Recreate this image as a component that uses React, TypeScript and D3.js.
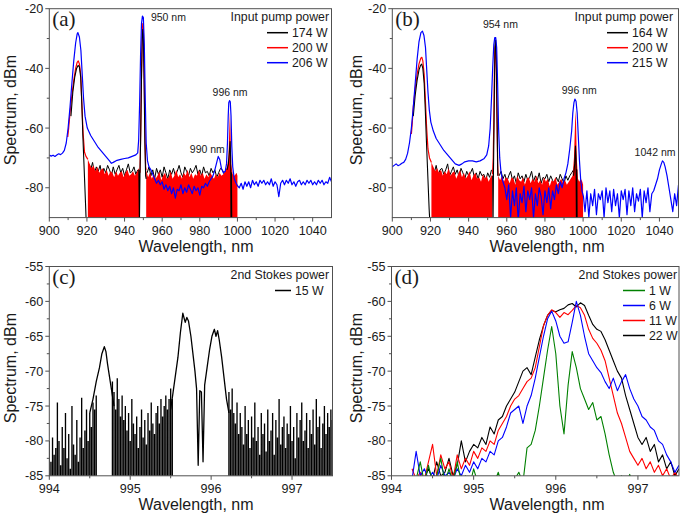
import * as d3 from 'd3';

type Pt = [number, number];

// spectra are sampled on a regular wavelength grid in the noisy stretches
const onGrid = (x0: number, step: number, ys: number[]): Pt[] =>
  ys.map((y, i) => [+(x0 + i * step).toFixed(3), y]);

// ---------- panel (a) ----------
const aBlue206: Pt[] = [
  [900, -69], [901, -69.4], [902, -69.1], [903, -69.5], [904, -69], [905, -68.6], [906, -68.9], [907, -68.4],
  [908, -67.5], [909, -65], [910, -60], [911, -53], [912, -45], [913, -37.5], [914, -31.5], [914.8, -28.5],
  [915.2, -28], [916, -29.5], [916.8, -34], [917.5, -42], [918.2, -50], [919, -56], [920.2, -60], [922, -62.5],
  [924, -64.5], [926, -66.5], [928, -68], [930, -69.5], [932, -71], [933, -71.8], [934, -71.5], [936, -70.8],
  [938, -70.5], [940, -70.2], [942, -70], [944, -69.5], [946, -69], [947, -68.3], [947.5, -64], [948, -52],
  [948.5, -36], [949, -25], [949.5, -22.5], [950, -23], [950.5, -32], [951, -50], [951.5, -65], [952.2, -71],
  [953, -73], [954, -74], [955, -75.5],
  ...onGrid(956, 1, [
    -77, -78.5, -77.5, -79, -78, -80.5, -79, -81, -79.5, -82, -80, -83.5, -80.5, -81, -79, -82,
    -80, -81.5, -79, -80.5, -82, -79.5, -81, -80, -82.5, -79.5, -80, -78.5, -79.5, -78, -77, -76,
  ]),
  [988, -74], [989, -71.5], [989.8, -69.5], [990.6, -70.5], [991.5, -73.5], [992.5, -75], [993.5, -74.5],
  [994.2, -72], [994.7, -65], [995.1, -56], [995.4, -51.5], [995.8, -50.8], [996.2, -51.2], [996.6, -56],
  [997, -66], [997.5, -73], [998.3, -77], [999.3, -78.5], [1000.2, -79.5],
  ...onGrid(1001, 1, [
    -80, -78.5, -80.5, -78, -79.5, -78, -80, -77.5, -79, -78, -79.5, -77.5, -78.5, -77.5, -79, -78,
    -79, -77, -79.5, -78, -79, -83, -78.5, -77.5, -79, -77.5, -78.5, -77, -79, -78, -79.5, -78,
    -77.5, -79, -78, -79, -77.5, -78.5, -77.5, -79, -78, -79, -77.5, -78.5, -77.5, -79, -78, -78.5,
    -76.5, -78,
  ]),
];

const aRed200Peaks: Pt[][] = [
  [[909.8, -63], [910.3, -60], [911, -55], [912, -49], [913, -44], [914, -40], [914.8, -38], [915.4, -37.5],
    [916, -38.5], [916.7, -42], [917.3, -52], [918, -62], [918.7, -68], [919.5, -69.5], [920.5, -70.5]],
  [[948.2, -75], [948.6, -60], [949, -42], [949.4, -28], [949.7, -25], [950, -27], [950.4, -40], [950.8, -60],
    [951.2, -73], [951.5, -74]],
];

const aRed200Floor: Pt[][] = [
  [...onGrid(920.5, 1, [
    -70.5, -72, -73.5, -72.5, -74.5, -73, -75, -74, -73.5, -75.5, -74, -76, -74.5, -75,
    -76.5, -74.5, -76, -75, -74.5, -76.5, -75, -74, -76, -75.5, -74.5, -76, -75, -73.5,
  ]), [948.2, -75]],
  [...onGrid(951.5, 1, [
    -74, -76.5, -75, -77, -75.5, -77, -76, -74.5, -77.5, -76, -75, -77, -76.5, -74.5, -77,
    -76, -74, -76.5, -75.5, -77, -75, -76, -74, -76.5, -75, -77, -75.5, -76, -74, -76,
    -75, -77, -75.5, -76.5, -75, -76, -77, -75.5, -76.5, -75, -76, -75.5, -74.5, -73,
  ]), [995.2, -70], [995.6, -62], [996, -54.5], [996.3, -60], [996.7, -72], [997.5, -75.5], [998.5, -76],
    [999.5, -75], [1000, -76]],
];

const aBlack174Floor: Pt[][] = [
  onGrid(921, 1, [
    -72, -74, -71.5, -75, -73, -74.5, -72.5, -76, -73.5, -75, -72.5, -74, -76, -73,
    -75.5, -74, -72.5, -75, -73.5, -76, -74, -72, -75, -74.5, -73, -75.5, -74,
  ]),
  onGrid(952, 1, [
    -75, -73, -76, -74, -77, -73.5, -75.5, -74, -76.5, -73, -75, -77, -74, -75.5, -73.5,
    -76, -74.5, -72.5, -75, -76.5, -73, -74.5, -76, -73.5, -75, -74, -72.5, -75.5, -74, -76,
    -73, -75, -74.5, -76, -73.5, -75, -74, -76.5, -75, -73.5, -74, -75.5, -74,
  ]),
];

const aBlack174Peaks: Pt[][] = [
  [[911.5, -56], [912.5, -48], [913.5, -43], [914.5, -40], [915.3, -39], [916, -39.5], [916.7, -43],
    [917.3, -52], [917.8, -62], [918.3, -70], [918.8, -78], [919.3, -86], [919.7, -93]],
  [[947.6, -74], [947.9, -92], [948.2, -76], [948.6, -62], [949, -44], [949.4, -30], [949.7, -27], [950, -29],
    [950.4, -45], [950.8, -65], [951.2, -76], [951.5, -77]],
  [[994.5, -74], [995.2, -72], [995.7, -68], [996.1, -64.5], [996.4, -70], [996.6, -92], [996.8, -75], [997, -93]],
];

// ---------- panel (b) ----------
const bBlue215: Pt[] = [
  [900, -73], [901, -72.5], [902, -72], [903, -72.6], [904, -72.3], [905, -71.8], [906, -71.5], [907, -70.5],
  [908, -68.5], [909, -65], [910, -60], [911, -53], [912, -45], [913, -37], [914, -31], [915, -28],
  [915.8, -27.5], [916.6, -29], [917.4, -33], [918, -40], [918.7, -48], [919.4, -54], [920.2, -58],
  [921.5, -61], [923, -63.5], [925, -65.5], [927, -67.5], [929, -69], [931, -70.5], [933, -72], [935, -72.5],
  [936.5, -72], [938, -71.3], [940, -71], [942, -71], [944, -71.3], [946, -71], [948, -70.3], [949.5, -69],
  [950.5, -66], [951.3, -60], [952, -50], [952.6, -40], [953.2, -32], [953.7, -29.7], [954.2, -29.7],
  [954.7, -33], [955.2, -45], [955.7, -60], [956.3, -70], [957, -75], [958, -78],
  ...onGrid(959, 1, [
    -80, -84, -79, -90, -81, -86, -80, -91, -82, -85, -79.5, -88, -81, -84, -80, -90,
    -82, -86, -80, -83, -89, -81, -85, -80, -87, -81, -84, -79, -82, -78, -80, -77,
  ]),
  [991, -75], [992, -72], [993, -67], [994, -61], [994.6, -55], [995.2, -51.5], [995.7, -50.3], [996.3, -51],
  [996.9, -55], [997.5, -63], [998.1, -71], [998.7, -77], [999.4, -81], [1000.2, -83],
  ...onGrid(1001, 1, [
    -88, -81, -90, -82, -86, -80.5, -89, -82, -84, -81, -90, -80, -85, -81, -88, -80.5, -86, -82,
    -90, -81, -84, -80.5, -89, -81, -86, -80, -88, -82, -84.5, -80.5, -90, -81, -85, -80, -88, -82,
  ]),
  [1037, -81], [1038, -79], [1039, -77], [1040, -74], [1041, -72], [1041.6, -71], [1042.3, -71.5], [1043, -73],
  [1044, -76], [1045, -80], [1046, -84], [1047, -88], [1048, -82], [1049, -86], [1050, -79],
];

const bRed200Peaks: Pt[][] = [
  [[910, -62], [910.5, -58], [911, -53], [912, -47], [913, -42], [914, -38.5], [915, -36.5], [915.5, -36.3],
    [916, -37.5], [916.7, -42], [917.3, -50], [918, -60], [918.7, -67], [919.5, -70], [920.5, -71.5]],
  [[952.5, -75.5], [952.9, -70], [953.2, -58], [953.5, -42], [953.8, -33], [954.1, -32], [954.4, -38],
    [954.8, -55], [955.2, -72], [955.5, -76]],
];

const bRed200Floor: Pt[][] = [
  onGrid(920.5, 1, [
    -71.5, -73, -74.5, -73.5, -75, -74, -76, -74.5, -75.5, -73.5, -76, -75, -74.5, -77, -75.5, -74, -76.5,
    -75, -77, -76, -74.5, -77.5, -76, -75, -77, -76.5, -78, -75.5, -77, -76, -78, -76.5, -75.5,
  ]),
  [...onGrid(955.5, 1, [
    -76, -77.5, -76, -78, -76.5, -77, -78.5, -76.5, -77, -79, -76, -77.5, -78, -76.5, -79, -77, -76.5, -78.5,
    -77, -78, -76, -78.5, -77.5, -79, -76.5, -78, -77, -79.5, -77.5, -78, -76.5, -79, -78, -77, -78.5, -77.5,
    -79, -78, -77, -76,
  ]), [995.2, -70], [995.6, -62], [996, -54], [996.3, -58], [996.7, -70], [997.3, -77], [998, -78],
    [998.8, -77], [999.6, -78], [1000, -79]],
];

const bBlack164Floor: Pt[][] = [
  onGrid(921, 1, [
    -73, -75, -72.5, -76, -74, -73.5, -75.5, -74, -72, -76, -74.5, -73, -75.5, -74, -76.5, -73.5,
    -75, -77, -74.5, -76, -75, -73.5, -76.5, -75, -77, -74.5, -76, -75.5, -77.5, -75, -76.5, -74,
  ]),
  onGrid(956, 1, [
    -76, -74.5, -77, -75.5, -78, -76, -74.5, -77.5, -76, -78.5, -75, -77, -76, -78, -75.5, -77.5, -76.5, -74.5,
    -78, -76, -77.5, -75, -78.5, -76.5, -77, -75.5, -78, -76, -77.5, -79, -76.5, -78, -75.5, -77, -78.5, -76,
    -77.5, -76, -75, -74,
  ]),
];

const bBlack164Peaks: Pt[][] = [
  [[911, -56], [912, -49], [913, -44], [914, -40.5], [914.8, -39], [915.4, -38.6], [916, -40], [916.7, -45],
    [917.3, -54], [917.8, -63], [918.3, -71], [918.8, -79], [919.3, -87], [919.8, -93]],
  [[952.6, -76], [952.8, -92], [953, -76], [953.3, -60], [953.6, -42], [953.9, -31], [954.2, -30.5],
    [954.5, -36], [954.9, -55], [955.3, -76]],
  [[995, -76], [995.6, -72], [996, -66], [996.3, -70], [996.5, -92], [996.7, -74], [996.9, -93]],
];

// ---------- panel (c) ----------
const c15Peaks: Pt[][] = [
  [[994.5, -76], [994.54, -74], [994.58, -71.5], [994.62, -69.5], [994.65, -67.5], [994.68, -66.5], [994.7, -67.2],
    [994.72, -69], [994.74, -70.5], [994.76, -72], [994.78, -73.5], [994.8, -75]],
  [[995.5, -75.5], [995.53, -73], [995.56, -70.5], [995.59, -68], [995.62, -64.5], [995.65, -61.7], [995.68, -63],
    [995.7, -62.3], [995.72, -62.8], [995.75, -65], [995.78, -68], [995.8, -70], [995.82, -72.5], [995.84, -83.5],
    [995.86, -72.8], [995.88, -73], [995.9, -83], [995.92, -72], [995.95, -69.5], [995.98, -67], [996.01, -65],
    [996.04, -64], [996.06, -65], [996.08, -64.2], [996.1, -65.5], [996.13, -68], [996.16, -71], [996.19, -74],
    [996.22, -76]],
];

const c15Noise: Pt[][] = [
  onGrid(994.0, 0.02, [
    -80, -83, -79.5, -82, -81, -74.5, -80, -83.5, -78, -81, -76, -82.5, -79, -84, -75,
    -80.5, -82, -77, -83, -79.5, -73.8, -81, -78.5, -75.5, -80, -76, -78, -74.5, -75.5, -73.5,
  ]),
  onGrid(994.78, 0.02, [
    -71.5, -73, -75.5, -71, -74, -76.5, -73.5, -77, -75, -78.5, -76, -80, -74, -77.5, -79, -76.5, -81, -78, -75.5,
    -79.5, -77, -80.5, -76, -78.5, -74.5, -77.5, -79, -76, -75, -77.5, -74, -76.5, -75, -73.5, -75.5, -74, -72.5, -74,
  ]),
  onGrid(996.22, 0.02, [
    -73, -75.5, -72.5, -76, -77.5, -74.5, -79, -76, -78, -80.5,
    -75, -79, -77, -81, -76.5, -79.5, -74.5, -80, -78, -82,
    -76, -79, -77.5, -81.5, -75.5, -80, -78.5, -76, -82, -77,
    -79.5, -74, -80.5, -78, -76.5, -81, -77.5, -79, -75, -80,
    -78, -82.5, -76, -79.5, -77, -74.5, -80, -78.5, -76, -81,
    -77, -79, -75.5, -80.5, -74, -78, -76.5, -81, -77.5, -75,
    -79, -76, -78, -75.5, -77,
  ]),
];

// ---------- panel (d) ----------
const d22W = onGrid(994.4, 0.05, [
  -85.5, -84, -85.5, -83, -85, -84.5, -82.5, -85, -83.5, -80, -83, -81.5,
  -80.5, -81, -79.5, -80.5, -78, -79, -77, -76.5, -75, -74, -73, -71.5, -70, -69.5, -70.5, -68, -65.5, -63.5, -62, -61.3,
  -61.5, -61.2, -61, -60.5, -60.3, -60.8, -60.2, -60.6, -62, -63.3, -64, -64.3, -65.5, -67, -68.5, -70, -71, -73.5, -75.5, -77.5,
  -79.5, -80.5, -79.5, -81.5, -80.5, -83, -82, -84, -83, -85, -84,
]);
const d11W = onGrid(994.25, 0.05, [
  -84, -85.5, -84.5, -85.5, -83, -80.5, -85, -82, -84, -83, -85.5, -82, -84, -82.5, -83.5,
  -81.5, -82.5, -81, -81.5, -80, -80.5, -78.5, -77.5, -76.5, -75, -74, -73.5, -72.5, -71.5, -71, -69.5, -66.5, -63.5, -62, -61.2,
  -61.6, -62.3, -61.6, -61.9, -61.3, -60.6, -60.9, -62, -64, -65.3, -66, -67, -68.5, -71, -73.5, -76, -77.5, -79.5, -81.5, -82.5,
  -83.5, -82.5, -84, -83, -84.5, -83.5, -85, -84, -85.5, -84.5, -85.5,
]);
const d6W = onGrid(994.25, 0.05, [
  -85.5, -81.5, -85, -84, -85.5, -84.5, -85.5, -83.5, -85, -84.5, -85.5, -84, -85, -83.5, -84.5,
  -83, -84, -82.5, -83, -81.5, -82, -80, -79.5, -78, -76, -75.5, -75, -77.5, -75, -73.5, -71, -68, -65, -62.5, -61.4,
  -62.8, -65, -66, -65.8, -63, -60, -62, -65, -67.5, -68.5, -69.5, -70.2, -71.5, -72.5, -71, -72.8, -71.5, -70.5, -72.5, -74,
  -75, -76.5, -77, -78, -78.5, -80, -80.5, -82, -83, -84.5, -83.5,
]);
const d1W = onGrid(994.3, 0.05, [
  -85.5, -83, -86, -83.5, -86, -85, -82.5, -86, -84, -86, -83, -86, -85, -86.5,
  -84, -86, -86.5, -85.5, -86.5, -86, -84.5, -86.5, -86, -86.5, -85.5, -84.5, -86, -81, -80.5, -78.5, -75, -71, -67, -63.6,
  -67.5, -75, -79, -72, -67.2, -69.5, -72.5, -74, -75.5, -74.5, -77, -76.5, -79, -82, -84.5, -86, -85, -86.5, -84.8, -86.5,
  -86, -86.5, -86,
]);

// ---------- axes ----------
const wideXTicks = [900, 920, 940, 960, 980, 1000, 1020, 1040];
const wideXMinor = [910, 930, 950, 970, 990, 1010, 1030];
const wideYTicks = [-20, -40, -60, -80];
const wideYMinor = [-30, -50, -70];
const zoomXTicks = [994, 995, 996, 997];
const zoomXMinor = [994.5, 995.5, 996.5];
const zoomYTicks = [-55, -60, -65, -70, -75, -80, -85];
const zoomYMinor = [-57.5, -62.5, -67.5, -72.5, -77.5, -82.5];

const pumpTitle = 'Input pump power';
const stokesTitle = '2nd Stokes power';

const BLACK = '#000000';
const RED = '#ff0000';
const BLUE = '#0000ff';
const GREEN = '#008000';
const SANS = '"Liberation Sans", Arial, Helvetica, sans-serif';
const SERIF = '"Liberation Serif", "Times New Roman", serif';

interface Box { left: number; right: number; top: number; bottom: number }
interface Layer { kind: 'line' | 'area' | 'sticks'; color: string; parts: Pt[][]; width?: number }
interface LegendCfg {
  title: string;
  items: { label: string; color: string }[];
  titleRight: number;
  lineX0: number;
  lineX1: number;
  textX: number;
}
interface Note { text: string; at: Pt }
interface PanelProps {
  id: string;
  letter: string;
  box: Box;
  xDomain: [number, number];
  yDomain: [number, number];
  xTicks: number[];
  xMinor: number[];
  yTicks: number[];
  yMinor: number[];
  layers: Layer[];
  legend: LegendCfg;
  notes: Note[];
  xLabelX: number;
  yLabelX: number;
}

function Panel(p: PanelProps) {
  const { box } = p;
  const x = d3.scaleLinear().domain(p.xDomain).range([box.left, box.right]);
  const y = d3.scaleLinear().domain(p.yDomain).range([box.bottom, box.top]);
  const line = d3.line<Pt>().x((d) => x(d[0])).y((d) => y(d[1]));
  const area = d3
    .area<Pt>()
    .x((d) => x(d[0]))
    .y0(box.bottom + 3)
    .y1((d) => y(d[1]));
  const axisColor = '#505050';

  return (
    <g>
      <defs>
        <clipPath id={`clip-${p.id}`}>
          <rect x={box.left} y={box.top} width={box.right - box.left} height={box.bottom - box.top} />
        </clipPath>
      </defs>

      <g clipPath={`url(#clip-${p.id})`}>
        {p.layers.map((layer, li) =>
          layer.parts.map((part, pi) => {
            if (layer.kind === 'area') {
              return <path key={`${li}-${pi}`} d={area(part) ?? ''} fill={layer.color} stroke="none" />;
            }
            if (layer.kind === 'sticks') {
              const d = part.map((pt) => `M${x(pt[0])},${box.bottom + 2}V${y(pt[1])}`).join('');
              return <path key={`${li}-${pi}`} d={d} stroke={layer.color} strokeWidth={layer.width ?? 1} fill="none" />;
            }
            return (
              <path
                key={`${li}-${pi}`}
                d={line(part) ?? ''}
                fill="none"
                stroke={layer.color}
                strokeWidth={layer.width ?? 1.1}
                strokeLinejoin="round"
              />
            );
          })
        )}
      </g>

      <rect
        x={box.left}
        y={box.top}
        width={box.right - box.left}
        height={box.bottom - box.top}
        fill="none"
        stroke={axisColor}
        strokeWidth={1}
      />

      {/* x axis */}
      {p.xTicks.map((t) => (
        <g key={`xt${t}`}>
          <line x1={x(t)} x2={x(t)} y1={box.bottom} y2={box.bottom + 4} stroke={axisColor} />
          <text x={x(t)} y={box.bottom + 17.5} textAnchor="middle" fontSize={12.6} fontFamily={SANS} fill="#1a1a1a">
            {String(t)}
          </text>
        </g>
      ))}
      {p.xMinor.map((t) => (
        <line key={`xm${t}`} x1={x(t)} x2={x(t)} y1={box.bottom} y2={box.bottom + 2.5} stroke={axisColor} />
      ))}

      {/* y axis */}
      {p.yTicks.map((t) => (
        <g key={`yt${t}`}>
          <line x1={box.left - 4} x2={box.left} y1={y(t)} y2={y(t)} stroke={axisColor} />
          <text x={box.left - 6} y={y(t) + 4.5} textAnchor="end" fontSize={12.6} fontFamily={SANS} fill="#1a1a1a">
            {String(t)}
          </text>
        </g>
      ))}
      {p.yMinor.map((t) => (
        <line key={`ym${t}`} x1={box.left - 2.5} x2={box.left} y1={y(t)} y2={y(t)} stroke={axisColor} />
      ))}

      <text x={p.xLabelX} y={box.bottom + 34.5} textAnchor="middle" fontSize={16} fontFamily={SANS} fill="#1a1a1a">
        Wavelength, nm
      </text>
      <text
        transform={`translate(${p.yLabelX},${(box.top + box.bottom) / 2 - 3}) rotate(-90)`}
        textAnchor="middle"
        fontSize={16}
        fontFamily={SANS}
        fill="#1a1a1a"
      >
        Spectrum, dBm
      </text>

      <text x={box.left + 3} y={box.top + 17.5} fontSize={21} fontFamily={SERIF} fill="#1a1a1a">
        {p.letter}
      </text>

      {/* legend */}
      <text x={p.legend.titleRight} y={box.top + 12.5} textAnchor="end" fontSize={12.3} fontFamily={SANS} fill="#1a1a1a">
        {p.legend.title}
      </text>
      {p.legend.items.map((it, i) => {
        const cy = box.top + 24 + 15 * i;
        return (
          <g key={it.label}>
            <line x1={p.legend.lineX0} x2={p.legend.lineX1} y1={cy} y2={cy} stroke={it.color} strokeWidth={1.5} />
            <text x={p.legend.textX} y={cy + 4.4} fontSize={12.3} fontFamily={SANS} fill="#1a1a1a">
              {it.label}
            </text>
          </g>
        );
      })}

      {p.notes.map((n) => (
        <text key={n.text} x={x(n.at[0])} y={y(n.at[1])} fontSize={10.5} fontFamily={SANS} fill="#1a1a1a">
          {n.text}
        </text>
      ))}
    </g>
  );
}

export default function App() {
  const topY = { top: 8.7, bottom: 217.6 };
  const botY = { top: 266.5, bottom: 475.8 };

  return (
    <svg
      width={685}
      height={517}
      viewBox="0 0 685 517"
      style={{ position: 'absolute', left: 0, top: 0, background: '#fff' }}
    >
      <Panel
        id="a"
        letter="(a)"
        box={{ left: 49.3, right: 331.5, ...topY }}
        xDomain={[900, 1050]}
        yDomain={[-90, -20]}
        xTicks={wideXTicks}
        xMinor={wideXMinor}
        yTicks={wideYTicks}
        yMinor={wideYMinor}
        layers={[
          { kind: 'line', color: BLACK, parts: aBlack174Floor, width: 1 },
          { kind: 'area', color: RED, parts: aRed200Floor },
          { kind: 'line', color: RED, parts: aRed200Peaks, width: 1.2 },
          { kind: 'line', color: BLACK, parts: aBlack174Peaks, width: 1.1 },
          { kind: 'line', color: BLUE, parts: [aBlue206], width: 1.2 },
        ]}
        legend={{
          title: pumpTitle,
          items: [
            { label: '174 W', color: BLACK },
            { label: '200 W', color: RED },
            { label: '206 W', color: BLUE },
          ],
          titleRight: 329,
          lineX0: 267,
          lineX1: 288,
          textX: 292,
        }}
        notes={[
          { text: '950 nm', at: [954, -24] },
          { text: '996 nm', at: [986.8, -49.1] },
          { text: '990 nm', at: [974.7, -68.2] },
        ]}
        xLabelX={196}
        yLabelX={16}
      />
      <Panel
        id="b"
        letter="(b)"
        box={{ left: 392.3, right: 678.5, ...topY }}
        xDomain={[900, 1050]}
        yDomain={[-90, -20]}
        xTicks={wideXTicks}
        xMinor={wideXMinor}
        yTicks={wideYTicks}
        yMinor={wideYMinor}
        layers={[
          { kind: 'line', color: BLACK, parts: bBlack164Floor, width: 1 },
          { kind: 'area', color: RED, parts: bRed200Floor },
          { kind: 'line', color: RED, parts: bRed200Peaks, width: 1.2 },
          { kind: 'line', color: BLACK, parts: bBlack164Peaks, width: 1.1 },
          { kind: 'line', color: BLUE, parts: [bBlue215], width: 1.2 },
        ]}
        legend={{
          title: pumpTitle,
          items: [
            { label: '164 W', color: BLACK },
            { label: '200 W', color: RED },
            { label: '215 W', color: BLUE },
          ],
          titleRight: 673,
          lineX0: 607,
          lineX1: 628,
          textX: 632,
        }}
        notes={[
          { text: '954 nm', at: [947.5, -26.6] },
          { text: '996 nm', at: [988.8, -48.6] },
          { text: '1042 nm', at: [1027, -69.3] },
        ]}
        xLabelX={547}
        yLabelX={362}
      />
      <Panel
        id="c"
        letter="(c)"
        box={{ left: 49.3, right: 332.5, ...botY }}
        xDomain={[994, 997.5]}
        yDomain={[-85, -55]}
        xTicks={zoomXTicks}
        xMinor={zoomXMinor}
        yTicks={zoomYTicks}
        yMinor={zoomYMinor}
        layers={[
          { kind: 'sticks', color: BLACK, parts: c15Noise, width: 1.35 },
          { kind: 'line', color: BLACK, parts: c15Peaks, width: 1.3 },
        ]}
        legend={{
          title: stokesTitle,
          items: [{ label: '15 W', color: BLACK }],
          titleRight: 329,
          lineX0: 275,
          lineX1: 291,
          textX: 295,
        }}
        notes={[]}
        xLabelX={196}
        yLabelX={16}
      />
      <Panel
        id="d"
        letter="(d)"
        box={{ left: 391.5, right: 679, ...botY }}
        xDomain={[994, 997.5]}
        yDomain={[-85, -55]}
        xTicks={zoomXTicks}
        xMinor={zoomXMinor}
        yTicks={zoomYTicks}
        yMinor={zoomYMinor}
        layers={[
          { kind: 'line', color: BLACK, parts: [d22W], width: 1.1 },
          { kind: 'line', color: RED, parts: [d11W], width: 1.1 },
          { kind: 'line', color: BLUE, parts: [d6W], width: 1.1 },
          { kind: 'line', color: GREEN, parts: [d1W], width: 1.1 },
        ]}
        legend={{
          title: stokesTitle,
          items: [
            { label: '1 W', color: GREEN },
            { label: '6 W', color: BLUE },
            { label: '11 W', color: RED },
            { label: '22 W', color: BLACK },
          ],
          titleRight: 677,
          lineX0: 623,
          lineX1: 645,
          textX: 649,
        }}
        notes={[]}
        xLabelX={547}
        yLabelX={362}
      />
    </svg>
  );
}
